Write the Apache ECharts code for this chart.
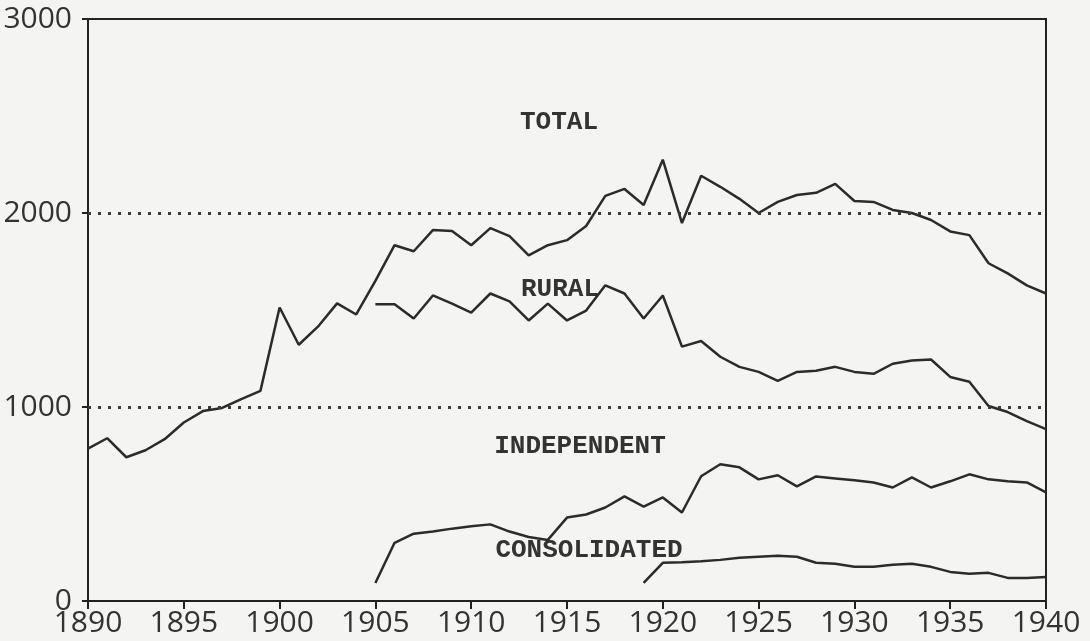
<!DOCTYPE html>
<html>
<head>
<meta charset="utf-8">
<script src="https://cdn.jsdelivr.net/npm/echarts@6/dist/echarts.min.js"></script>
<style>
  html, body { margin: 0; padding: 0; background: #f4f4f2; }
  #echart2 { width: 1090px; height: 641px; }
</style>
</head>
<body>
<div id="echart2"></div>
<script>
var years = ['1890','1891','1892','1893','1894','1895','1896','1897','1898','1899',
             '1900','1901','1902','1903','1904','1905','1906','1907','1908','1909',
             '1910','1911','1912','1913','1914','1915','1916','1917','1918','1919',
             '1920','1921','1922','1923','1924','1925','1926','1927','1928','1929',
             '1930','1931','1932','1933','1934','1935','1936','1937','1938','1939','1940'];

var total = [785, 839, 741, 777, 834, 920, 979, 995, 1041, 1083,
             1513, 1321, 1414, 1534, 1477, 1650, 1834, 1803, 1912, 1907,
             1834, 1922, 1881, 1782, 1834, 1860, 1933, 2088, 2124, 2041,
             2275, 1948, 2192, 2135, 2073, 2000, 2057, 2093, 2104, 2150,
             2062, 2057, 2016, 2000, 1964, 1905, 1886, 1741, 1689, 1627, 1585];

// 1905 - 1940
var rural = [1530, 1530, 1456, 1575, 1533,
             1487, 1585, 1544, 1446, 1533, 1446, 1497, 1627, 1585, 1456,
             1575, 1311, 1340, 1259, 1207, 1181, 1135, 1181, 1187, 1207,
             1181, 1171, 1223, 1240, 1245, 1155, 1130, 1005, 974, 927, 886];

// 1905 - 1940
var independent = [93, 300, 347, 358, 373,
                   385, 395, 358, 330, 315, 430, 446, 482, 539, 487,
                   534, 456, 643, 705, 689, 627, 648, 591, 642, 632,
                   622, 611, 585, 637, 585, 617, 653, 627, 617, 611, 560];

// 1919 - 1940
var consolidated = [93,
                    197, 200, 205, 212, 223, 228, 233, 228, 197, 192,
                    176, 176, 187, 192, 176, 150, 140, 145, 119, 119, 124];

var yTicks = [0, 1000, 2000, 3000];

var lmyChart = null;

// pad a series that starts late with nulls so it lines up with years
function from_year(start, vals){
    var out = [];
    var k = years.indexOf(start);
    for (var i = 0; i < k; i++) out.push(null);
    return out.concat(vals);
}

function line_series(name, data, extra){
    var s = {
        name: name,
        type: 'line',
        data: data,
        showSymbol: false,
        symbol: 'none',
        connectNulls: false,
        lineStyle: { color: '#2b2b2b', width: 2.5 },
        silent: true
    };
    for (var k in extra) s[k] = extra[k];
    return s;
}

function label_text(txt, x, y){
    return {
        type: 'text',
        x: x,
        y: y,
        silent: true,
        style: {
            text: txt,
            font: 'bold 26px "Liberation Mono", monospace',
            fill: '#333',
            align: 'center',
            verticalAlign: 'middle'
        }
    };
}

function cal_option(){
    var option = {
        backgroundColor: '#f4f4f2',
        animation: false,
        grid: {
            left: 88, right: 44, top: 19, bottom: 40,
            show: true,
            borderColor: '#222',
            borderWidth: 2,
            backgroundColor: 'transparent'
        },
        xAxis: {
            type: 'category',
            data: years,
            boundaryGap: false,
            axisLine: { lineStyle: { color: '#222', width: 2 } },
            axisTick: { show: true, interval: 4, length: 8, lineStyle: { color: '#222', width: 2 } },
            axisLabel: {
                interval: 4,
                margin: 7,
                color: '#333',
                fontSize: 30,
                fontFamily: '"Open Sans", sans-serif'
            },
            splitLine: { show: false }
        },
        yAxis: {
            type: 'value',
            min: yTicks[0],
            max: yTicks[yTicks.length - 1],
            interval: 1000,
            axisLine: { show: true, lineStyle: { color: '#222', width: 2 } },
            axisTick: { show: true, length: 6, lineStyle: { color: '#222', width: 2 } },
            axisLabel: {
                margin: 16,
                color: '#333',
                fontSize: 30,
                fontFamily: '"Open Sans", sans-serif',
                formatter: function (v) { return String(v); }
            },
            splitLine: { show: false }
        },
        graphic: [
            label_text('TOTAL', 559, 122),
            label_text('RURAL', 560, 289),
            label_text('INDEPENDENT', 580, 446),
            label_text('CONSOLIDATED', 589, 550)
        ],
        series: [
            line_series('TOTAL', total, {
                markLine: {
                    silent: true,
                    symbol: 'none',
                    label: { show: false },
                    lineStyle: { color: '#3a3a3a', width: 3, type: [3, 7] },
                    data: [ { yAxis: 1000 }, { yAxis: 2000 } ]
                }
            }),
            line_series('RURAL', from_year('1905', rural)),
            line_series('INDEPENDENT', from_year('1905', independent)),
            line_series('CONSOLIDATED', from_year('1919', consolidated))
        ]
    };
    return option;
}

function draw_charts(){
    lmyChart = echarts.init(document.getElementById('echart2'));
    lmyChart.setOption(cal_option());
    window.onresize = function(){
        lmyChart.resize();
    };
}

draw_charts();
</script>
</body>
</html>
